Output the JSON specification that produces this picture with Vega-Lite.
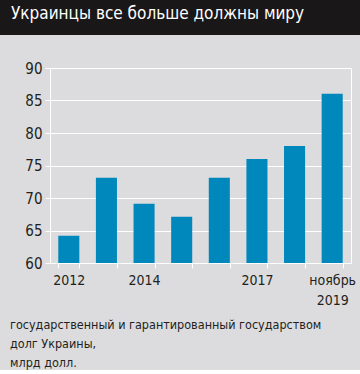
{
  "$schema": "https://vega.github.io/schema/vega-lite/v6.json",
  "background": "#dcdcde",
  "padding": 0,
  "spacing": 26,
  "config": {
    "view": {"stroke": null},
    "font": "DejaVu Sans Condensed, Roboto"
  },
  "vconcat": [
    {
      "width": 360,
      "height": 35,
      "data": {"values": [{"k": 0}]},
      "mark": {"type": "rect", "color": "#1a1718"},
      "encoding": {},
      "title": {
        "text": "Украинцы все больше должны миру",
        "orient": "bottom",
        "anchor": "start",
        "frame": "group",
        "offset": -29,
        "baseline": "top",
        "dx": 11,
        "color": "#ffffff",
        "fontSize": 17,
        "fontWeight": "normal",
        "font": "DejaVu Sans Condensed, Roboto"
      }
    },
    {
      "width": 351,
      "height": 195,
      "data": {
        "values": [
          {"year": "2012", "debt": 64.2},
          {"year": "2013", "debt": 73.1},
          {"year": "2014", "debt": 69.1},
          {"year": "2015", "debt": 67.1},
          {"year": "2016", "debt": 73.1},
          {"year": "2017", "debt": 76.0},
          {"year": "2018", "debt": 78.0},
          {"year": "2019", "debt": 86.05}
        ]
      },
      "encoding": {
        "x": {
          "field": "year",
          "type": "ordinal",
          "sort": null,
          "scale": {"range": [50, 351], "paddingInner": 0.44, "paddingOuter": 0.22},
          "axis": {
            "title": null,
            "labelAngle": 0,
            "tickBand": "extent",
            "domainColor": "#ffffff",
            "tickColor": "#ffffff",
            "tickSize": 5,
            "labelPadding": 5,
            "labelFontSize": 14,
            "labelColor": "#231f20",
            "labelLineHeight": 20,
            "labelExpr": "datum.value == '2012' || datum.value == '2014' || datum.value == '2017' ? datum.value : (datum.value == '2019' ? ['ноябрь', '2019'] : '')"
          }
        },
        "y2": {"datum": 60}
      },
      "layer": [
        {
          "mark": {"type": "bar", "color": "#0088bd"},
          "encoding": {
            "y": {
              "field": "debt",
              "type": "quantitative",
              "scale": {"domain": [60, 90], "zero": false, "nice": false},
              "axis": {
                "title": null,
                "orient": "left",
                "offset": -50,
                "values": [60, 65, 70, 75, 80, 85, 90],
                "grid": true,
                "gridColor": "#ffffff",
                "gridWidth": 1,
                "gridOpacity": 1,
                "domainColor": "#ffffff",
                "tickColor": "#ffffff",
                "tickSize": 5,
                "labelPadding": 3,
                "labelFontSize": 15,
                "labelColor": "#231f20"
              }
            }
          }
        },
        {
          "mark": {"type": "bar", "opacity": 0},
          "encoding": {
            "y": {
              "field": "debt",
              "type": "quantitative",
              "scale": {"domain": [60, 90], "zero": false, "nice": false},
              "axis": {
                "title": null,
                "orient": "right",
                "labels": false,
                "ticks": false,
                "grid": false,
                "domainColor": "#ffffff"
              }
            }
          }
        }
      ],
      "resolve": {"axis": {"y": "independent"}},
      "title": {
        "text": ["государственный и гарантированный государством", "долг Украины,", "млрд долл."],
        "orient": "bottom",
        "anchor": "start",
        "frame": "group",
        "offset": 12,
        "dx": 10,
        "fontSize": 12.5,
        "lineHeight": 19,
        "color": "#231f20",
        "fontWeight": "normal",
        "font": "DejaVu Sans Condensed, Roboto"
      }
    }
  ]
}
